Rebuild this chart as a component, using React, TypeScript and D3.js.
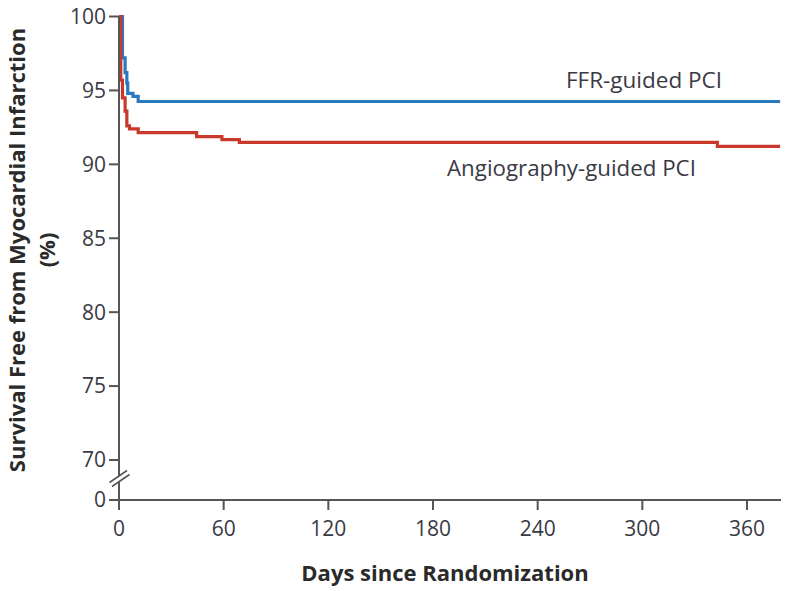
import React from "react";
import * as d3 from "d3";

// ---- Data ----
const ffrDays = [0, 2, 3.5, 4.5, 5, 8, 11, 379];
const ffrSurvival = [100, 97.2, 96.2, 95.5, 94.8, 94.6, 94.25, 94.25];

const angioDays = [0, 1, 2, 3.5, 4.5, 6, 11, 44.5, 59, 69, 343, 379];
const angioSurvival = [100, 95.7, 94.5, 93.6, 92.6, 92.4, 92.15, 91.88, 91.67, 91.48, 91.22, 91.22];

const xTicks = [0, 60, 120, 180, 240, 300, 360];
const yTicks = [70, 75, 80, 85, 90, 95, 100];
const yBreakTick = 0;

const seriesNames = ["FFR-guided PCI", "Angiography-guided PCI"];
const xTitle = "Days since Randomization";
const yTitle1 = "Survival Free from Myocardial Infarction";
const yTitle2 = "(%)";

const W = 800;
const H = 591;

export default function App() {
  const x = d3.scaleLinear().domain([0, 360]).range([119, 747]);
  const y = d3.scaleLinear().domain([70, 100]).range([460, 16.5]);
  const yZero = 500;
  const axisEnd = 781;

  const line = d3
    .line<[number, number]>()
    .x((d) => x(d[0]))
    .y((d) => y(d[1]))
    .curve(d3.curveStepAfter);

  const ffr = ffrDays.map((d, i) => [d, ffrSurvival[i]] as [number, number]);
  const angio = angioDays.map((d, i) => [d, angioSurvival[i]] as [number, number]);

  const axisColor = "#555";
  const textColor = "#3a3a44";
  const font = "'Open Sans', 'Noto Sans', sans-serif";
  const axisX = x(0);
  const tickFont = 21;

  return (
    <svg
      width={W}
      height={H}
      style={{ position: "absolute", left: 0, top: 0, background: "#fff" }}
      fontFamily={font}
    >
      {/* curves */}
      <path d={line(ffr) || ""} fill="none" stroke="#2a78bd" strokeWidth={3.2} />
      <path d={line(angio) || ""} fill="none" stroke="#c8392b" strokeWidth={3.2} />

      {/* y axis with break */}
      <line x1={axisX} x2={axisX} y1={y(100)} y2={476} stroke={axisColor} strokeWidth={2} />
      <line x1={axisX} x2={axisX} y1={482} y2={yZero + 10} stroke={axisColor} strokeWidth={2} />
      <line x1={109.5} y1={482.5} x2={127} y2={470.5} stroke={axisColor} strokeWidth={1.6} />
      <line x1={112} y1={486.5} x2={129.5} y2={474.5} stroke={axisColor} strokeWidth={1.6} />

      {yTicks.map((t) => (
        <g key={t}>
          <line x1={axisX - 10} x2={axisX} y1={y(t)} y2={y(t)} stroke={axisColor} strokeWidth={2} />
          <text x={axisX - 13} y={y(t)} dy="0.35em" textAnchor="end" fontSize={tickFont} fill={textColor}>
            {t}
          </text>
        </g>
      ))}
      <line x1={axisX - 10} x2={axisX} y1={yZero} y2={yZero} stroke={axisColor} strokeWidth={2} />
      <text x={axisX - 13} y={yZero} dy="0.35em" textAnchor="end" fontSize={tickFont} fill={textColor}>
        {yBreakTick}
      </text>

      {/* x axis */}
      <line x1={axisX} x2={axisEnd} y1={yZero} y2={yZero} stroke={axisColor} strokeWidth={2} />
      {xTicks.map((t) => (
        <g key={t}>
          <line x1={x(t)} x2={x(t)} y1={yZero} y2={yZero + 10} stroke={axisColor} strokeWidth={2} />
          <text x={x(t)} y={536} textAnchor="middle" fontSize={tickFont} fill={textColor}>
            {t}
          </text>
        </g>
      ))}

      {/* axis titles */}
      <text x={445} y={581} textAnchor="middle" fontSize={22} fontWeight="bold" fill="#2a2a2a">
        {xTitle}
      </text>
      <g transform="translate(25,250) rotate(-90)">
        <text x={0} y={0} textAnchor="middle" fontSize={22} fontWeight="bold" fill="#2a2a2a">
          {yTitle1}
        </text>
        <text x={0} y={30} textAnchor="middle" fontSize={22} fontWeight="bold" fill="#2a2a2a">
          {yTitle2}
        </text>
      </g>

      {/* series labels */}
      <text x={566} y={88} fontSize={22.5} fill={textColor}>
        {seriesNames[0]}
      </text>
      <text x={447} y={176} fontSize={22.3} fill={textColor}>
        {seriesNames[1]}
      </text>
    </svg>
  );
}
